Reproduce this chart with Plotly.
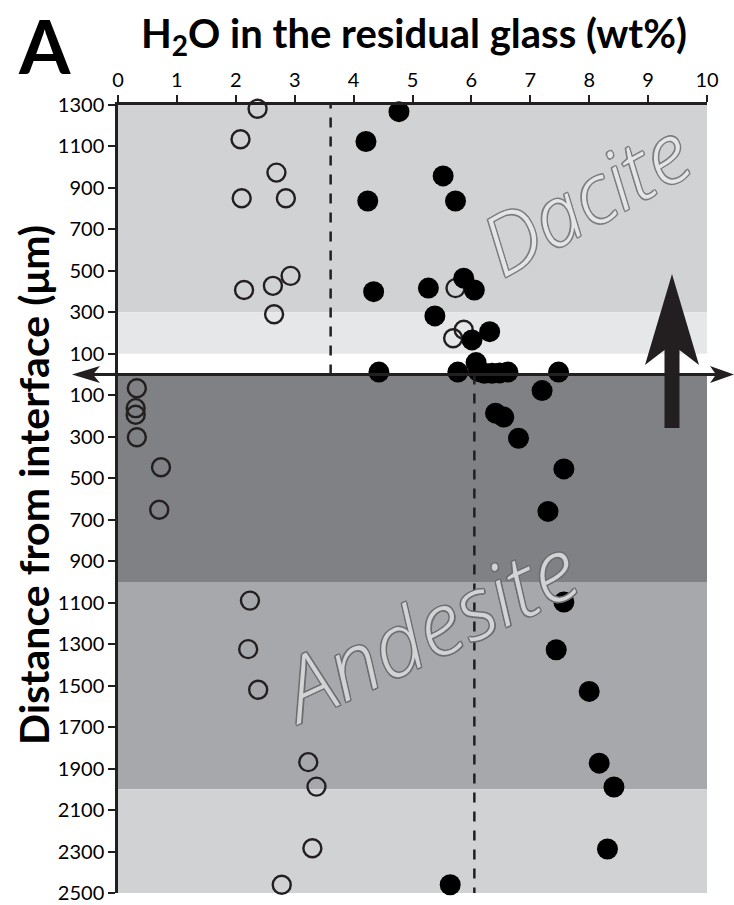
import plotly.graph_objects as go

# ---- data: H2O (wt%) vs distance from interface (um); dacite above (+), andesite below (-)
dacite_open_h2o = [2.37, 2.08, 2.69, 2.10, 2.85, 2.14, 2.63, 2.93, 2.65, 5.73, 5.87, 5.69]
dacite_open_dist = [1282, 1135, 974, 850, 850, 408, 428, 476, 291, 417, 216, 175]

dacite_fill_h2o = [4.77, 4.21, 5.52, 5.73, 4.24, 4.34, 5.27, 5.87, 6.05, 5.38, 6.31, 6.01,
                   4.43, 5.77, 6.08, 6.12, 6.22, 6.35, 6.48, 6.62, 7.48]
dacite_fill_dist = [1268, 1124, 958, 837, 837, 400, 417, 465, 408, 283, 207, 167,
                    12, 12, 58, 14, 6, 6, 8, 12, 12]

andesite_open_h2o = [0.32, 0.30, 0.30, 0.32, 0.73, 0.70, 2.24, 2.21, 2.38, 3.23, 3.37, 3.30, 2.78]
andesite_open_dist = [66, 162, 194, 302, 447, 652, 1090, 1324, 1520, 1869, 1987, 2284, 2460]

andesite_fill_h2o = [7.20, 6.41, 6.55, 6.80, 7.57, 7.30, 7.57, 7.44, 8.00, 8.17, 8.42, 8.31, 5.64]
andesite_fill_dist = [77, 186, 205, 307, 455, 660, 1097, 1327, 1528, 1874, 1989, 2288, 2460]

# initial H2O of each melt (dashed reference lines)
dacite_ref_h2o = 3.61
andesite_ref_h2o = 6.05

x_ticks = list(range(0, 11))
y_tick_dist_dacite = [1300, 1100, 900, 700, 500, 300, 100]
y_tick_dist_andesite = [100, 300, 500, 700, 900, 1100, 1300, 1500, 1700, 1900, 2100, 2300, 2500]

# shaded zones: (from, to, colour) in signed distance
zones = [
    (300, 1300, "#d1d2d4"),
    (100, 300, "#e6e7e8"),
    (-1000, 0, "#808184"),
    (-2000, -1000, "#a7a8ab"),
    (-2500, -2000, "#d1d2d4"),
]

# ---- page geometry (pixels)
WIDTH, HEIGHT = 734, 905
L, R, T, B = 118, 707, 105, 893
PW, PH = R - L, B - T
Y_TOP, Y_BOT = 1300, -2500
INK = "#231f20"
FONT = "Lato"


def px(xp):
    return (xp - L) / PW


def py(yp):
    return (B - yp) / PH


y0_pix = T + (Y_TOP - 0) * PH / (Y_TOP - Y_BOT)

fig = go.Figure()

# open circles first, filled circles on top
fig.add_trace(go.Scatter(
    x=dacite_open_h2o + andesite_open_h2o,
    y=dacite_open_dist + [-d for d in andesite_open_dist],
    mode="markers", cliponaxis=False, showlegend=False,
    marker=dict(symbol="circle", size=18, color="rgba(0,0,0,0)",
                line=dict(width=2.4, color=INK)),
))
fig.add_trace(go.Scatter(
    x=dacite_fill_h2o + andesite_fill_h2o,
    y=dacite_fill_dist + [-d for d in andesite_fill_dist],
    mode="markers", cliponaxis=False, showlegend=False,
    marker=dict(symbol="circle", size=21, color="#000000", line=dict(width=0)),
))

shapes = []
for y_a, y_b, col in zones:
    shapes.append(dict(type="rect", xref="x", yref="y", x0=0, x1=10, y0=y_a, y1=y_b,
                       fillcolor=col, line=dict(width=0), layer="below"))

# dashed reference lines
shapes.append(dict(type="line", xref="x", yref="y", x0=dacite_ref_h2o, x1=dacite_ref_h2o,
                   y0=0, y1=Y_TOP, line=dict(color=INK, width=2.5, dash="10px,9px"), layer="above"))
shapes.append(dict(type="line", xref="x", yref="y", x0=andesite_ref_h2o, x1=andesite_ref_h2o,
                   y0=0, y1=Y_BOT, line=dict(color=INK, width=2.5, dash="10px,9px"), layer="above"))

# interface line with arrowheads at both ends
shapes.append(dict(type="line", xref="paper", yref="paper", x0=px(92), x1=px(716),
                   y0=py(y0_pix), y1=py(y0_pix), line=dict(color=INK, width=3), layer="above"))


def path(points):
    return "M " + " L ".join(f"{px(a):.5f},{py(b):.5f}" for a, b in points) + " Z"


left_head = [(72, y0_pix), (100, y0_pix - 8.5), (93, y0_pix), (100, y0_pix + 8.5)]
right_head = [(734, y0_pix), (710, y0_pix - 8.5), (716, y0_pix), (710, y0_pix + 8.5)]
for pts in (left_head, right_head):
    shapes.append(dict(type="path", xref="paper", yref="paper", path=path(pts),
                       fillcolor=INK, line=dict(width=0), layer="above"))

# upward arrow (migration direction)
big_arrow = [(672, 274), (699, 365), (679.5, 350), (679.5, 428), (664.5, 428),
             (664.5, 350), (645, 365)]
shapes.append(dict(type="path", xref="paper", yref="paper", path=path(big_arrow),
                   fillcolor=INK, line=dict(width=0), layer="above"))


def outline(col, w=1.2):
    offs = [(-w, -w), (w, -w), (-w, w), (w, w), (0, w), (0, -w), (w, 0), (-w, 0)]
    return ", ".join(f"{a}px {b}px 0 {col}" for a, b in offs)


annotations = [
    dict(text="<b>A</b>", xref="paper", yref="paper", x=px(44), y=py(45),
         showarrow=False, font=dict(family=FONT, size=74, color="#000000"),
         xanchor="center", yanchor="middle"),
    dict(text="<b>H<sub>2</sub>O in the residual glass (wt%)</b>", xref="paper", yref="paper",
         x=px(414), y=py(35), showarrow=False,
         font=dict(family=FONT, size=40, color="#000000"), xanchor="center", yanchor="middle"),
    dict(text="<b>Distance from interface (μm)</b>", xref="paper", yref="paper",
         x=px(33), y=py(485), showarrow=False, textangle=-90,
         font=dict(family=FONT, size=41, color="#000000"), xanchor="center", yanchor="middle"),
    dict(text="Dacite", xref="paper", yref="paper", x=px(584), y=py(197), showarrow=False,
         textangle=-29,
         font=dict(family="Open Sans", size=82, color="#e4e5e6", style="italic", weight=300,
                   shadow=outline("#7d7e80")),
         xanchor="center", yanchor="middle"),
    dict(text="Andesite", xref="paper", yref="paper", x=px(426), y=py(627), showarrow=False,
         textangle=-25,
         font=dict(family="Open Sans", size=86, color="#d2d3d5", style="italic", weight=300,
                   shadow=outline("#6d6e71")),
         xanchor="center", yanchor="middle"),
]

y_vals = [d for d in y_tick_dist_dacite] + [-d for d in y_tick_dist_andesite]
y_text = [str(d) for d in y_tick_dist_dacite] + [str(d) for d in y_tick_dist_andesite]

fig.update_layout(
    width=WIDTH, height=HEIGHT, autosize=False,
    margin=dict(l=L, r=WIDTH - R, t=T, b=HEIGHT - B, pad=0, autoexpand=False),
    paper_bgcolor="white", plot_bgcolor="white",
    shapes=shapes, annotations=annotations, showlegend=False,
    xaxis=dict(range=[0, 10], side="top", tickvals=x_ticks, ticktext=[str(v) for v in x_ticks],
               ticks="outside", ticklen=7, tickwidth=2, tickcolor=INK, automargin=False,
               showline=True, linewidth=2.5, linecolor=INK, showgrid=False, zeroline=False,
               tickfont=dict(family=FONT, size=20, color="#000000"), fixedrange=True),
    yaxis=dict(range=[Y_BOT, Y_TOP], tickvals=y_vals, ticktext=y_text,
               ticks="outside", ticklen=7, tickwidth=2, tickcolor=INK, automargin=False,
               showline=True, linewidth=2.5, linecolor=INK, showgrid=False, zeroline=False,
               tickfont=dict(family=FONT, size=20, color="#000000"), fixedrange=True),
)

fig.write_html("out.html")
